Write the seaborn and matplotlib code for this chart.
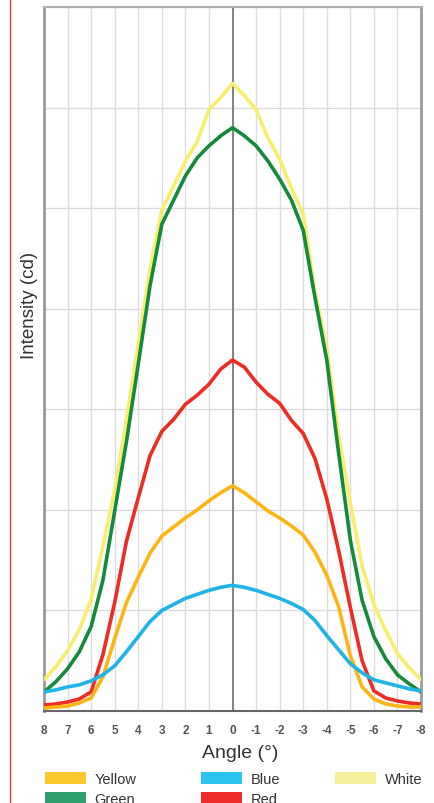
import pandas as pd
import seaborn as sns
import matplotlib.pyplot as plt
from matplotlib.patches import Patch
from matplotlib.lines import Line2D

# Angle grid (degrees)
angles = [8, 7.5, 7, 6.5, 6, 5.5, 5, 4.5, 4, 3.5, 3, 2.5, 2, 1.5, 1, 0.5, 0,
          -0.5, -1, -1.5, -2, -2.5, -3, -3.5, -4, -4.5, -5, -5.5, -6, -6.5, -7, -7.5, -8]

yellow = [0.03, 0.04, 0.05, 0.08, 0.13, 0.34, 0.72, 1.08, 1.33, 1.57, 1.74, 1.83, 1.92, 2.00, 2.09, 2.17, 2.24,
          2.17, 2.08, 1.99, 1.92, 1.84, 1.75, 1.58, 1.35, 1.04, 0.55, 0.24, 0.12, 0.07, 0.05, 0.04, 0.04]
blue = [0.19, 0.21, 0.24, 0.26, 0.30, 0.36, 0.45, 0.59, 0.74, 0.89, 1.00, 1.06, 1.12, 1.16, 1.20, 1.23, 1.25,
        1.23, 1.20, 1.16, 1.12, 1.07, 1.01, 0.90, 0.75, 0.61, 0.47, 0.38, 0.31, 0.28, 0.25, 0.22, 0.20]
red = [0.06, 0.07, 0.09, 0.12, 0.19, 0.56, 1.08, 1.69, 2.12, 2.54, 2.78, 2.90, 3.05, 3.14, 3.25, 3.40, 3.49,
       3.42, 3.27, 3.15, 3.06, 2.89, 2.76, 2.51, 2.11, 1.60, 1.03, 0.50, 0.20, 0.13, 0.10, 0.08, 0.07]
green = [0.19, 0.29, 0.42, 0.59, 0.84, 1.30, 1.99, 2.68, 3.45, 4.23, 4.84, 5.08, 5.32, 5.50, 5.62, 5.72, 5.80,
         5.72, 5.62, 5.47, 5.29, 5.08, 4.78, 4.11, 3.49, 2.57, 1.70, 1.10, 0.74, 0.52, 0.36, 0.27, 0.19]
white = [0.31, 0.44, 0.60, 0.81, 1.11, 1.64, 2.20, 2.90, 3.65, 4.40, 4.98, 5.22, 5.47, 5.66, 5.98, 6.10, 6.24,
         6.12, 5.98, 5.70, 5.49, 5.20, 4.94, 4.17, 3.60, 2.75, 2.07, 1.44, 1.06, 0.80, 0.57, 0.43, 0.31]

xticks = [8, 7, 6, 5, 4, 3, 2, 1, 0, -1, -2, -3, -4, -5, -6, -7, -8]

series = {'Yellow': yellow, 'Blue': blue, 'Red': red, 'Green': green, 'White': white}
df = pd.concat([pd.DataFrame({'angle': angles, 'intensity': v, 'colour': k})
                for k, v in series.items()], ignore_index=True)

line_colours = {'Yellow': '#fdb515', 'Blue': '#1fb3e8', 'Red': '#ee2b24',
                'Green': '#168a3c', 'White': '#f7ee6e'}
swatch_colours = {'Yellow': '#fdc82c', 'Blue': '#2ec3f0', 'Red': '#ee2e2b',
                  'Green': '#2f9f6e', 'White': '#f4f19c'}

sns.set_style('white')
plt.rcParams['font.family'] = ['Liberation Sans', 'DejaVu Sans']

fig = plt.figure(figsize=(4.34, 8.04), dpi=100)
ax = fig.add_axes([0.1014, 0.1144, 0.8687, 0.8756])

ax.axvline(0, color='#7a7a7a', lw=1.3, zorder=1)
sns.lineplot(data=df, x='angle', y='intensity', hue='colour',
             hue_order=['White', 'Green', 'Red', 'Yellow', 'Blue'],
             palette=line_colours, estimator=None, linewidth=2.6,
             solid_joinstyle='round', solid_capstyle='round',
             legend=False, ax=ax, zorder=3)

ax.set_xlim(8, -8)
ax.set_ylim(0, 7)
ax.set_xticks(xticks)
ax.set_xticklabels([str(t) for t in xticks], fontsize=8.5, fontweight='bold', color='#444444')
ax.set_xticks([t + 0.5 for t in xticks[1:]], minor=True)
ax.set_yticks(range(0, 8))
ax.set_yticklabels([])
ax.tick_params(axis='x', which='both', direction='in', colors='#555555', pad=9)
ax.tick_params(axis='x', which='major', length=5, width=1)
ax.tick_params(axis='x', which='minor', length=3, width=1)
ax.tick_params(axis='y', length=0)
ax.grid(True, axis='both', which='major', color='#dcdcdc', lw=1)
ax.set_axisbelow(True)

for side, c, w in [('left', '#9a9a9a', 2), ('right', '#9a9a9a', 2),
                   ('top', '#b0b0b0', 1.5), ('bottom', '#666666', 1.5)]:
    ax.spines[side].set_color(c)
    ax.spines[side].set_linewidth(w)

ax.set_xlabel('Angle (°)', fontsize=14, color='#333333')
ax.xaxis.set_label_coords(0.52, -0.047)
ax.set_ylabel('Intensity (cd)', fontsize=13.5, color='#333333')
ax.yaxis.set_label_coords(-0.016, 0.577)

# red page margin line
fig.add_artist(Line2D([0.022, 0.022], [0, 1], transform=fig.transFigure, color='#e8383d', lw=1))

# legend: three fixed columns, second row runs off the bottom as in the source
columns = [(['Yellow', 'Green'], 45), (['Blue', 'Red'], 201), (['White'], 335)]
for names, xpx in columns:
    handles = [Patch(facecolor=swatch_colours[k], edgecolor='none', label=k) for k in names]
    fig.legend(handles=handles, ncol=1, loc='upper left', bbox_to_anchor=(xpx / 434, 0.0385),
               frameon=False, fontsize=10.5, handlelength=2.8, handleheight=0.85,
               handletextpad=0.6, labelspacing=0.38, borderpad=0, borderaxespad=0,
               labelcolor='#333333')

fig.savefig('out.png', dpi=100)
